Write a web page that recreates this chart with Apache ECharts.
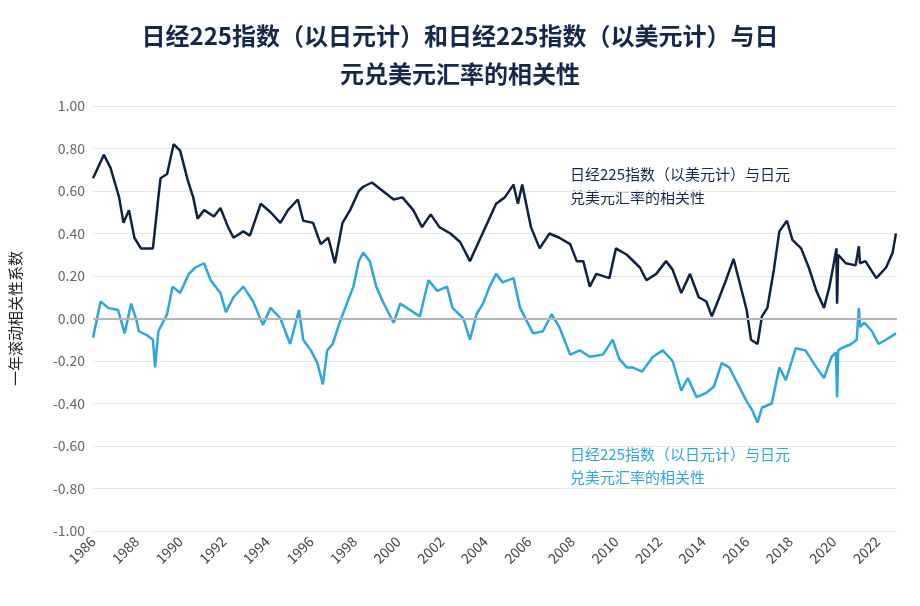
<!DOCTYPE html>
<html><head><meta charset="utf-8">
<script src="https://cdn.jsdelivr.net/npm/echarts@6/dist/echarts.min.js"></script>
<style>html,body{margin:0;padding:0;background:#fff}#c{width:920px;height:606px}</style>
</head><body><div id="c"></div>
<script>
const usdSeries = [[1986.0,0.66],[1986.5,0.77],[1986.8,0.71],[1987.0,0.64],[1987.2,0.57],[1987.4,0.45],[1987.65,0.51],[1987.9,0.38],[1988.2,0.33],[1988.75,0.33],[1989.0,0.57],[1989.1,0.66],[1989.4,0.68],[1989.7,0.82],[1990.0,0.79],[1990.35,0.65],[1990.6,0.57],[1990.8,0.47],[1991.1,0.51],[1991.55,0.48],[1991.85,0.52],[1992.2,0.43],[1992.45,0.38],[1992.9,0.41],[1993.2,0.39],[1993.7,0.54],[1994.15,0.50],[1994.6,0.45],[1994.95,0.51],[1995.4,0.56],[1995.65,0.46],[1996.1,0.45],[1996.45,0.35],[1996.8,0.38],[1997.1,0.26],[1997.45,0.45],[1997.8,0.51],[1998.2,0.60],[1998.4,0.62],[1998.8,0.64],[1999.3,0.60],[1999.8,0.56],[2000.2,0.57],[2000.7,0.51],[2001.1,0.43],[2001.5,0.49],[2001.9,0.43],[2002.4,0.40],[2002.85,0.36],[2003.3,0.27],[2003.7,0.36],[2004.1,0.45],[2004.5,0.54],[2004.9,0.57],[2005.3,0.63],[2005.5,0.54],[2005.7,0.63],[2006.1,0.43],[2006.5,0.33],[2006.95,0.40],[2007.4,0.38],[2007.9,0.35],[2008.2,0.27],[2008.5,0.27],[2008.8,0.15],[2009.1,0.21],[2009.7,0.19],[2010.0,0.33],[2010.5,0.30],[2011.1,0.24],[2011.4,0.18],[2011.85,0.21],[2012.3,0.27],[2012.6,0.23],[2013.0,0.12],[2013.4,0.21],[2013.8,0.10],[2014.15,0.08],[2014.4,0.01],[2014.75,0.10],[2015.05,0.18],[2015.4,0.28],[2015.65,0.18],[2016.0,0.04],[2016.2,-0.10],[2016.5,-0.12],[2016.7,0.01],[2016.95,0.05],[2017.25,0.23],[2017.5,0.41],[2017.85,0.46],[2018.1,0.37],[2018.5,0.33],[2018.85,0.24],[2019.2,0.13],[2019.55,0.05],[2019.8,0.15],[2020.0,0.26],[2020.12,0.33],[2020.15,0.07],[2020.2,0.30],[2020.55,0.26],[2021.0,0.25],[2021.15,0.34],[2021.2,0.26],[2021.45,0.27],[2021.95,0.19],[2022.4,0.24],[2022.7,0.31],[2022.85,0.40]];
const jpySeries = [[1986.0,-0.09],[1986.35,0.08],[1986.7,0.05],[1987.15,0.04],[1987.45,-0.07],[1987.75,0.07],[1988.0,-0.01],[1988.1,-0.06],[1988.5,-0.08],[1988.75,-0.10],[1988.85,-0.23],[1989.0,-0.06],[1989.4,0.02],[1989.65,0.15],[1990.0,0.12],[1990.4,0.21],[1990.7,0.24],[1991.1,0.26],[1991.4,0.18],[1991.85,0.12],[1992.1,0.03],[1992.45,0.10],[1992.9,0.15],[1993.35,0.08],[1993.8,-0.03],[1994.15,0.05],[1994.6,0.00],[1995.05,-0.12],[1995.45,0.04],[1995.65,-0.10],[1996.0,-0.15],[1996.3,-0.21],[1996.55,-0.31],[1996.75,-0.15],[1997.0,-0.12],[1997.35,-0.01],[1997.65,0.07],[1997.95,0.15],[1998.2,0.27],[1998.4,0.31],[1998.7,0.27],[1999.0,0.15],[1999.3,0.08],[1999.8,-0.02],[2000.1,0.07],[2000.55,0.04],[2001.0,0.01],[2001.4,0.18],[2001.8,0.13],[2002.25,0.15],[2002.5,0.05],[2003.0,0.00],[2003.3,-0.10],[2003.6,0.02],[2003.9,0.07],[2004.2,0.15],[2004.5,0.21],[2004.8,0.17],[2005.3,0.19],[2005.6,0.05],[2005.9,-0.01],[2006.2,-0.07],[2006.65,-0.06],[2007.05,0.02],[2007.4,-0.04],[2007.9,-0.17],[2008.35,-0.15],[2008.8,-0.18],[2009.4,-0.17],[2009.85,-0.10],[2010.15,-0.19],[2010.5,-0.23],[2010.75,-0.23],[2011.2,-0.25],[2011.7,-0.18],[2012.15,-0.15],[2012.6,-0.20],[2013.0,-0.34],[2013.3,-0.28],[2013.7,-0.37],[2014.15,-0.35],[2014.5,-0.32],[2014.85,-0.21],[2015.2,-0.23],[2015.65,-0.32],[2016.0,-0.39],[2016.25,-0.43],[2016.5,-0.49],[2016.7,-0.42],[2017.15,-0.40],[2017.5,-0.23],[2017.8,-0.29],[2018.25,-0.14],[2018.7,-0.15],[2019.2,-0.23],[2019.55,-0.28],[2019.9,-0.18],[2020.1,-0.16],[2020.15,-0.37],[2020.2,-0.15],[2020.35,-0.14],[2020.8,-0.12],[2021.05,-0.10],[2021.15,0.05],[2021.2,-0.04],[2021.4,-0.02],[2021.75,-0.06],[2022.05,-0.12],[2022.4,-0.10],[2022.85,-0.07]];
const yTicks = [-1, -0.8, -0.6, -0.4, -0.2, 0, 0.2, 0.4, 0.6, 0.8, 1];
const usdLabel = ['日经225指数（以美元计）与日元', '兑美元汇率的相关性'];
const jpyLabel = ['日经225指数（以日元计）与日元', '兑美元汇率的相关性'];

const chart = echarts.init(document.getElementById('c'));
const FONT = '"Noto Sans CJK SC", "Noto Sans", sans-serif';
chart.setOption({
  animation: false,
  textStyle: {fontFamily: FONT},
  title: {
    text: '日经225指数（以日元计）和日经225指数（以美元计）与日\n元兑美元汇率的相关性',
    left: 'center', top: 12,
    textStyle: {fontSize: 24, fontWeight: 'bold', color: '#14284b', lineHeight: 38, fontFamily: FONT}
  },
  grid: {left: 92, right: 23, top: 106, bottom: 75},
  xAxis: {
    type: 'value', min: 1986, max: 2022.9, interval: 2,
    axisLine: {show: false}, axisTick: {show: false}, splitLine: {show: false},
    axisLabel: {rotate: 45, color: '#444', fontSize: 14, showMaxLabel: false, margin: 8, formatter: v => String(v)}
  },
  yAxis: {
    type: 'value', min: yTicks[0], max: yTicks[yTicks.length - 1], interval: 0.2,
    name: '一年滚动相关性系数', nameLocation: 'middle', nameGap: 70, nameRotate: 90,
    nameTextStyle: {fontSize: 15, color: '#222'},
    axisLine: {show: false}, axisTick: {show: false},
    axisLabel: {color: '#666', fontSize: 14, formatter: v => v.toFixed(2)},
    splitLine: {lineStyle: {color: '#e6e6e6', width: 1}}
  },
  series: [
    {type: 'line', data: jpySeries, showSymbol: false, lineStyle: {color: '#2ba6de', width: 2.5}, itemStyle: {color: '#2ba6de'},
     markLine: {silent: true, symbol: 'none', label: {show: false}, lineStyle: {color: '#b5b5b5', width: 2, type: 'solid'}, data: [{yAxis: 0}]}},
    {type: 'line', data: usdSeries, showSymbol: false, lineStyle: {color: '#0e2341', width: 2.5}, itemStyle: {color: '#0e2341'}}
  ],
  graphic: [
    {type: 'text', left: 570, top: 163, style: {text: usdLabel.join('\n'), fill: '#14284b', font: '15px ' + FONT, lineHeight: 23}},
    {type: 'text', left: 570, top: 443, style: {text: jpyLabel.join('\n'), fill: '#2ba6de', font: '15px ' + FONT, lineHeight: 23}}
  ]
});
</script></body></html>
